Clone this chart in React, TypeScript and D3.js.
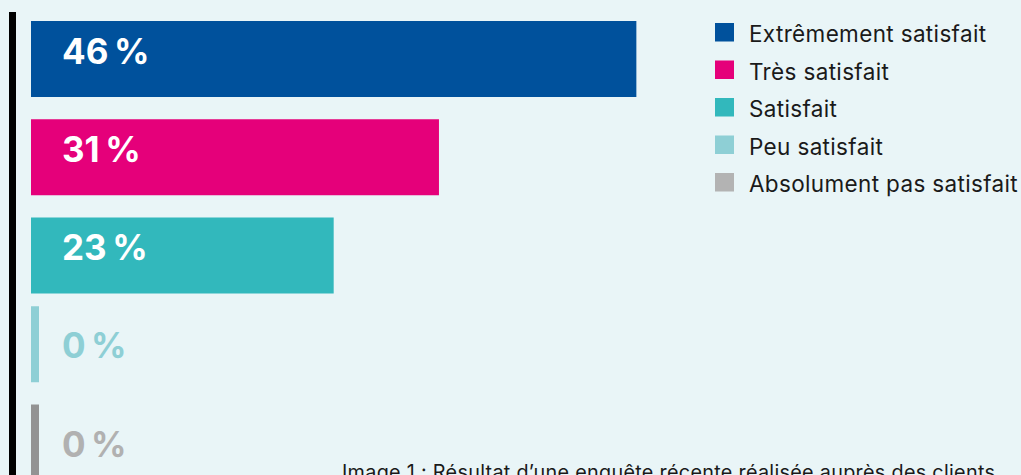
import React from "react";
import * as d3 from "d3";

const categories = [
  "Extrêmement satisfait",
  "Très satisfait",
  "Satisfait",
  "Peu satisfait",
  "Absolument pas satisfait",
];
const values = [46, 31, 23, 0, 0];
const barColors = ["#00519C", "#E5007A", "#32B8BC", "#8ECFD5", "#939393"];
const labelColors = ["#FFFFFF", "#FFFFFF", "#FFFFFF", "#8ECFD5", "#B1B1B1"];
const legendColors = ["#00519C", "#E5007A", "#32B8BC", "#8ECFD5", "#B3B3B3"];
const caption = "Image 1 : Résultat d’une enquête récente réalisée auprès des clients";

const W = 1021;
const H = 475;
const FONT = "Inter, 'Noto Sans', sans-serif";

export default function App() {
  const x = d3.scaleLinear().domain([0, 100]).range([0, 1316]);
  const rows = d3
    .scalePoint<string>()
    .domain(categories)
    .range([21, 21 + 4 * 98.25]);
  const barH = 76;
  const barX = 31;
  const minW = 8;
  const zeroShift = -9.5;

  const legendRow = d3
    .scalePoint<string>()
    .domain(categories)
    .range([23, 23 + 4 * 37.5]);

  return (
    <svg
      width={W}
      height={H}
      style={{ position: "absolute", left: 0, top: 0, background: "#E9F5F7" }}
    >
      <rect x={0} y={0} width={W} height={H} fill="#E9F5F7" />
      <rect x={9} y={12} width={7} height={H - 12} fill="#000" />
      {categories.map((c, i) => {
        const v = values[i];
        const top = rows(c)!;
        const y = v === 0 ? top + zeroShift : top;
        const w = Math.max(x(v), minW);
        return (
          <g key={c}>
            <rect x={barX} y={y} width={w} height={barH} fill={barColors[i]} />
            <text
              x={62}
              y={top + 42.5}
              fill={labelColors[i]}
              fontFamily={FONT}
              fontWeight={700}
              fontSize={35}
              letterSpacing={-1.4}
            >
              {`${v}\u202F%`}
            </text>
          </g>
        );
      })}
      {categories.map((c, i) => {
        const y = legendRow(c)!;
        return (
          <g key={"l" + c}>
            <rect x={715} y={y} width={19} height={18.5} fill={legendColors[i]} />
            <text
              x={749}
              y={y + 19}
              fill="#1A1A1A"
              fontFamily={FONT}
              fontSize={22.5}
              letterSpacing={0.35}
            >
              {c}
            </text>
          </g>
        );
      })}
      <text
        x={342}
        y={479}
        fill="#1A1A1A"
        fontFamily={FONT}
        fontSize={19.8}
        letterSpacing={0.3}
      >
        {caption}
      </text>
    </svg>
  );
}
